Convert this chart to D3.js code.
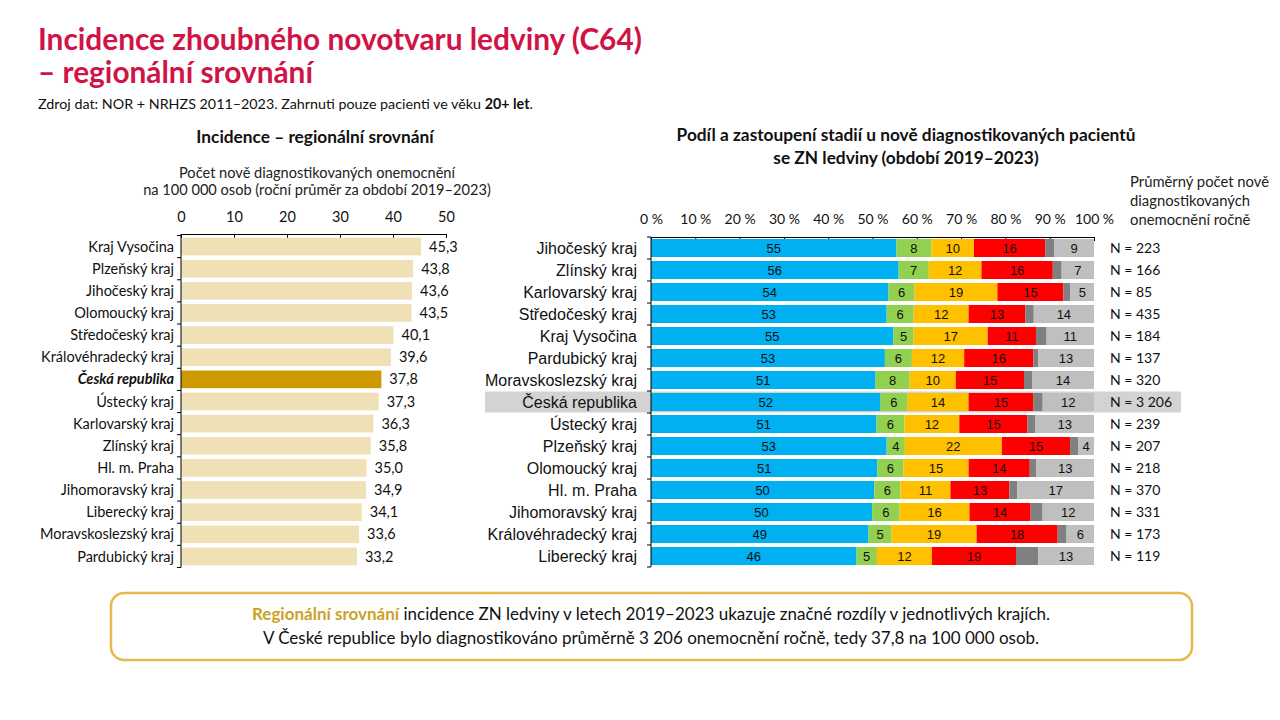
<!DOCTYPE html>
<html>
<head>
<meta charset="utf-8">
<script src="https://cdn.jsdelivr.net/npm/d3@7"></script>
<style>
  body { margin: 0; background: #fff; }
  svg { display: block; }
</style>
</head>
<body>
<div id="chart"></div>
<script>
/* Data - left chart (incidence per 100 000) */
const incRegions = ["Kraj Vysočina", "Plzeňský kraj", "Jihočeský kraj", "Olomoucký kraj", "Středočeský kraj",
  "Královéhradecký kraj", "Česká republika", "Ústecký kraj", "Karlovarský kraj", "Zlínský kraj",
  "Hl. m. Praha", "Jihomoravský kraj", "Liberecký kraj", "Moravskoslezský kraj", "Pardubický kraj"];
const incValues = [45.3, 43.8, 43.6, 43.5, 40.1, 39.6, 37.8, 37.3, 36.3, 35.8, 35.0, 34.9, 34.1, 33.6, 33.2];
const incTicks = [0, 10, 20, 30, 40, 50];

/* Data - right chart (stage shares, %) */
const stageRegions = ["Jihočeský kraj", "Zlínský kraj", "Karlovarský kraj", "Středočeský kraj", "Kraj Vysočina",
  "Pardubický kraj", "Moravskoslezský kraj", "Česká republika", "Ústecký kraj", "Plzeňský kraj",
  "Olomoucký kraj", "Hl. m. Praha", "Jihomoravský kraj", "Královéhradecký kraj", "Liberecký kraj"];
const stageKeys = ["I", "II", "III", "IV", "X", "NA"];
const stageI   = [55.4, 55.9, 53.6, 53.2, 54.7, 52.8, 50.7, 51.8, 50.9, 53.2, 51.1, 50.4, 49.9, 49.1, 46.4];
const stageII  = [7.9, 6.8, 5.9, 6.1, 4.6, 6.1, 7.7, 6.1, 6.3, 4.1, 5.9, 5.9, 6.2, 5.2, 4.6];
const stageIII = [9.6, 11.9, 18.7, 12.4, 16.7, 11.8, 10.4, 13.8, 12.4, 21.9, 14.7, 11.3, 15.8, 19.2, 12.4];
const stageIV  = [16.1, 16.1, 14.9, 12.8, 10.9, 15.6, 15.4, 14.6, 15.4, 15.4, 13.8, 13.3, 13.8, 18.3, 19.0];
const stageX   = [2.0, 2.0, 1.6, 1.9, 2.4, 1.1, 1.8, 2.1, 1.8, 1.8, 1.5, 1.8, 2.7, 2.0, 5.0];
const stageNA  = [9.0, 7.3, 5.3, 13.6, 10.7, 12.6, 14.0, 11.6, 13.2, 3.6, 13.0, 17.3, 11.6, 6.2, 12.6];
const stageN   = [223, 166, 85, 435, 184, 137, 320, 3206, 239, 207, 218, 370, 331, 173, 119];
const pctTicks = [0, 10, 20, 30, 40, 50, 60, 70, 80, 90, 100];

const stageColors = ["#00B0F0", "#92D050", "#FFC000", "#FF0000", "#808080", "#BFBFBF"];

const CALIBRI = "Lato, 'Open Sans', sans-serif";
const ARIAL = "'Liberation Sans', Arial, sans-serif";
const CR = "Česká republika";

const cz = d3.formatLocale({ decimal: ",", thousands: " ", grouping: [3], currency: ["", " Kč"] });
const fmt1 = cz.format(".1f");
const fmtN = cz.format(",d");

let width = 1280, height = 720;

let svg = d3.select('#chart')
  .append('svg')
  .attr('width', width)
  .attr('height', height)
  .style('font-family', CALIBRI);

/* Header */
svg.append('text')
  .attr('x', 38).attr('y', 50)
  .style('font-size', '29.8px').style('font-weight', 'bold').style('fill', '#D01446')
  .text('Incidence zhoubného novotvaru ledviny (C64)');
svg.append('text')
  .attr('x', 38).attr('y', 83)
  .style('font-size', '29.8px').style('font-weight', 'bold').style('fill', '#D01446')
  .text('– regionální srovnání');

let src = svg.append('text')
  .attr('x', 38).attr('y', 109)
  .style('font-size', '14.3px').style('fill', '#111');
src.append('tspan').text('Zdroj dat: NOR + NRHZS 2011–2023. Zahrnuti pouze pacienti ve věku ');
src.append('tspan').style('font-weight', 'bold').text('20+ let');
src.append('tspan').text('.');

/* ---------- LEFT CHART ---------- */
svg.append('text')
  .attr('x', 315).attr('y', 143)
  .attr('text-anchor', 'middle')
  .style('font-size', '17.3px').style('font-weight', 'bold').style('fill', '#111')
  .text('Incidence – regionální srovnání');

[['Počet nově diagnostikovaných onemocnění', 178], ['na 100 000 osob (roční průměr za období 2019–2023)', 195]]
  .forEach(([t, y]) => {
    svg.append('text')
      .attr('x', 317).attr('y', y)
      .attr('text-anchor', 'middle')
      .style('font-size', '14.6px').style('fill', '#222')
      .text(t);
  });

let xInc = d3.scaleLinear().domain([0, 50]).range([181, 446]);
let yInc = d3.scaleBand().domain(incRegions).range([235.5, 567.5]).paddingInner(0.2).paddingOuter(0.1);

let incAxis = svg.append('g')
  .attr('transform', 'translate(0,234)')
  .call(d3.axisTop(xInc).tickValues(incTicks).tickSizeInner(-4).tickSizeOuter(0).tickPadding(12));
incAxis.select('.domain').attr('stroke', '#000');
incAxis.selectAll('text').style('font-size', '14.5px').style('font-family', CALIBRI).style('fill', '#111');

// bars
svg.selectAll('.incBar')
  .data(incRegions)
  .enter().append('rect')
  .attr('class', 'incBar')
  .attr('x', xInc(0))
  .attr('y', d => yInc(d))
  .attr('width', (d, i) => xInc(incValues[i]) - xInc(0))
  .attr('height', yInc.bandwidth())
  .style('fill', d => d === CR ? '#CC9900' : '#EFE0B5');

// value labels
svg.selectAll('.incVal')
  .data(incRegions)
  .enter().append('text')
  .attr('class', 'incVal')
  .attr('x', (d, i) => xInc(incValues[i]) + 8)
  .attr('y', d => yInc(d) + yInc.bandwidth() / 2)
  .attr('dy', '0.35em')
  .style('font-size', '14.5px').style('fill', '#111')
  .text((d, i) => fmt1(incValues[i]));

// category labels
svg.selectAll('.incCat')
  .data(incRegions)
  .enter().append('text')
  .attr('class', 'incCat')
  .attr('x', 174)
  .attr('y', d => yInc(d) + yInc.bandwidth() / 2)
  .attr('dy', '0.35em')
  .attr('text-anchor', 'end')
  .style('font-size', '14.5px')
  .style('font-weight', d => d === CR ? 'bold' : 'normal')
  .style('font-style', d => d === CR ? 'italic' : 'normal')
  .style('fill', '#111')
  .text(d => d);

// vertical axis with category separators
let incStep = yInc.step();
svg.append('line')
  .attr('x1', xInc(0)).attr('x2', xInc(0))
  .attr('y1', 234).attr('y2', yInc(incRegions[incRegions.length - 1]) + yInc.bandwidth() + incStep * 0.1)
  .attr('stroke', '#000');
svg.selectAll('.incSep')
  .data(d3.range(incRegions.length + 1))
  .enter().append('line')
  .attr('x1', xInc(0) - 4).attr('x2', xInc(0))
  .attr('y1', i => yInc(incRegions[0]) - incStep * 0.1 + i * incStep)
  .attr('y2', i => yInc(incRegions[0]) - incStep * 0.1 + i * incStep)
  .attr('stroke', '#000');

/* ---------- RIGHT CHART ---------- */
[['Podíl a zastoupení stadií u nově diagnostikovaných pacientů', 141], ['se ZN ledviny (období 2019–2023)', 164]]
  .forEach(([t, y]) => {
    svg.append('text')
      .attr('x', 906).attr('y', y)
      .attr('text-anchor', 'middle')
      .style('font-size', '17.3px').style('font-weight', 'bold').style('fill', '#111')
      .text(t);
  });

[['Průměrný počet nově', 187], ['diagnostikovaných', 206], ['onemocnění ročně', 225]]
  .forEach(([t, y]) => {
    svg.append('text')
      .attr('x', 1130).attr('y', y)
      .style('font-size', '14.8px').style('fill', '#222')
      .text(t);
  });

let xSt = d3.scaleLinear().domain([0, 100]).range([651, 1094]);
let ySt = d3.scaleBand().domain(stageRegions).range([237, 567]).paddingInner(0.18).paddingOuter(0.09);

// highlight row for Czech Republic
svg.append('rect')
  .attr('x', 485)
  .attr('y', ySt(CR) + ySt.bandwidth() / 2 - 10.5)
  .attr('width', 1181 - 485)
  .attr('height', 21)
  .style('fill', '#D3D3D3');

let stAxis = svg.append('g')
  .attr('transform', 'translate(0,237)')
  .call(d3.axisTop(xSt).tickValues(pctTicks).tickFormat(d => d + ' %')
    .tickSizeInner(-4).tickSizeOuter(0).tickPadding(13));
stAxis.select('.domain').attr('stroke', '#000');
stAxis.selectAll('text').style('font-size', '14px').style('font-family', CALIBRI).style('fill', '#111');

let stageRows = stageRegions.map((r, i) => ({
  region: r,
  I: stageI[i], II: stageII[i], III: stageIII[i], IV: stageIV[i], X: stageX[i], NA: stageNA[i]
}));
let stacked = d3.stack().keys(stageKeys)(stageRows);

let layers = svg.selectAll('.layer')
  .data(stacked)
  .enter().append('g')
  .attr('class', 'layer')
  .style('fill', (d, i) => stageColors[i]);

layers.selectAll('rect')
  .data(d => d)
  .enter().append('rect')
  .attr('x', d => xSt(d[0]))
  .attr('y', d => ySt(d.data.region))
  .attr('width', d => xSt(d[1]) - xSt(d[0]))
  .attr('height', ySt.bandwidth());

// segment labels (no label for the small dark-grey segment)
layers.filter(d => d.key !== 'X')
  .selectAll('text')
  .data(d => d)
  .enter().append('text')
  .attr('x', d => (xSt(d[0]) + xSt(d[1])) / 2)
  .attr('y', d => ySt(d.data.region) + ySt.bandwidth() / 2)
  .attr('dy', '0.36em')
  .attr('text-anchor', 'middle')
  .style('font-family', ARIAL)
  .style('font-size', '13px')
  .style('fill', '#111')
  .text(d => Math.round(d[1] - d[0]));

// category labels
svg.selectAll('.stCat')
  .data(stageRegions)
  .enter().append('text')
  .attr('class', 'stCat')
  .attr('x', 637)
  .attr('y', d => ySt(d) + ySt.bandwidth() / 2)
  .attr('dy', '0.36em')
  .attr('text-anchor', 'end')
  .style('font-family', ARIAL)
  .style('font-size', '16px')
  .style('fill', '#111')
  .text(d => d);

// N labels
svg.selectAll('.stN')
  .data(stageRegions)
  .enter().append('text')
  .attr('class', 'stN')
  .attr('x', 1110)
  .attr('y', d => ySt(d) + ySt.bandwidth() / 2)
  .attr('dy', '0.35em')
  .style('font-size', '14px')
  .style('fill', '#111')
  .text((d, i) => 'N = ' + fmtN(stageN[i]));

// vertical axis with separators
let stStep = ySt.step();
svg.append('line')
  .attr('x1', xSt(0)).attr('x2', xSt(0))
  .attr('y1', 237).attr('y2', 567)
  .attr('stroke', '#000');
svg.selectAll('.stSep')
  .data(d3.range(stageRegions.length + 1))
  .enter().append('line')
  .attr('x1', xSt(0) - 4).attr('x2', xSt(0))
  .attr('y1', i => 237 + i * stStep)
  .attr('y2', i => 237 + i * stStep)
  .attr('stroke', '#000');

/* ---------- NOTE BOX ---------- */
svg.append('rect')
  .attr('x', 111).attr('y', 593)
  .attr('width', 1081).attr('height', 67)
  .attr('rx', 13)
  .style('fill', '#fff')
  .style('stroke', '#E8B84A')
  .style('stroke-width', 2.5);

let note1 = svg.append('text')
  .attr('x', 651).attr('y', 620)
  .attr('text-anchor', 'middle')
  .style('font-size', '17px').style('fill', '#111');
note1.append('tspan').style('font-weight', 'bold').style('fill', '#C9A227').text('Regionální srovnání');
note1.append('tspan').text(' incidence ZN ledviny v letech 2019–2023 ukazuje značné rozdíly v jednotlivých krajích.');

svg.append('text')
  .attr('x', 651).attr('y', 644)
  .attr('text-anchor', 'middle')
  .style('font-size', '17px').style('fill', '#111')
  .text('V České republice bylo diagnostikováno průměrně 3 206 onemocnění ročně, tedy 37,8 na 100 000 osob.');
</script>
</body>
</html>
